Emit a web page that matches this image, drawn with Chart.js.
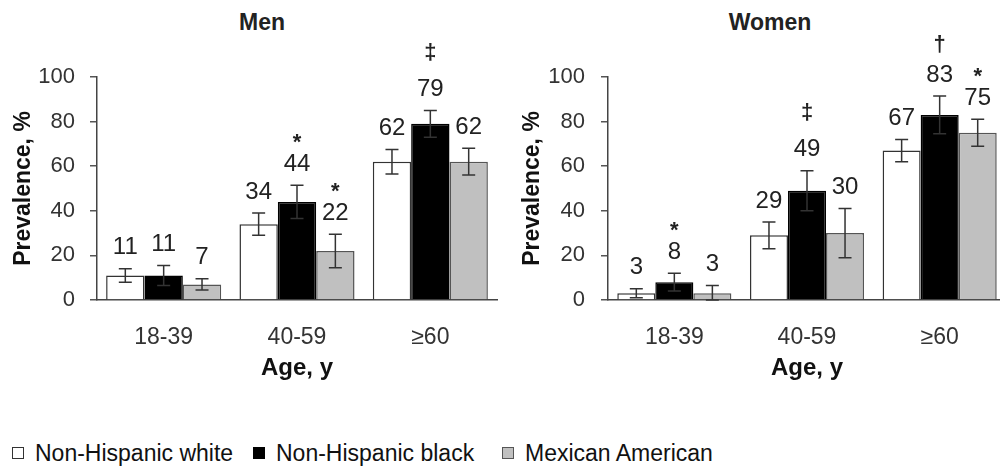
<!DOCTYPE html>
<html>
<head>
<meta charset="utf-8">
<script src="https://cdn.jsdelivr.net/npm/chart.js@4"></script>
<style>
  html, body { margin: 0; padding: 0; background: #fff; }
  body { width: 1000px; height: 466px; overflow: hidden; position: relative; font-family: "Liberation Sans", Arial, sans-serif; }
  canvas { position: absolute; top: 0; }
  .ptitle { position: absolute; top: 9px; font-weight: bold; font-size: 23px; line-height: 26px; color: #222; transform: translateX(-50%); white-space: nowrap; }
  .item { position: absolute; top: 439px; font-size: 23px; line-height: 28px; color: #111; white-space: nowrap; }
  .box { position: absolute; top: 8px; left: -23px; width: 10px; height: 10px; border: 1px solid #333; }
</style>
</head>
<body>
<div class="ptitle" style="left:262px">Men</div>
<div class="ptitle" style="left:770px">Women</div>
<canvas id="men" width="500" height="400" style="left:0"></canvas>
<canvas id="women" width="510" height="400" style="left:500px"></canvas>

<div class="item" style="left:35px"><span class="box" style="background:#fff"></span>Non-Hispanic white</div>
<div class="item" style="left:276px"><span class="box" style="background:#000;border-color:#000"></span>Non-Hispanic black</div>
<div class="item" style="left:525px"><span class="box" style="background:#c0c0c0;border-color:#555"></span>Mexican American</div>

<script>
// categories and series
const categories = ['18-39', '40-59', '\u226560'];
const seriesNames = ['Non-Hispanic white', 'Non-Hispanic black', 'Mexican American'];

// Men - prevalence (%) and error (+/-)
const menWhite = [11, 34, 62];
const menBlack = [11, 44, 79];
const menMexican = [7, 22, 62];
const menWhiteErr = [3, 5, 5.5];
const menBlackErr = [4.5, 7.5, 6];
const menMexicanErr = [2.5, 7.5, 6];
const menWhiteSym = ['', '', ''];
const menBlackSym = ['', '*', '\u2021'];
const menMexicanSym = ['', '*', ''];

// Women
const womenWhite = [3, 29, 67];
const womenBlack = [8, 49, 83];
const womenMexican = [3, 30, 75];
const womenWhiteErr = [2, 6, 5];
const womenBlackErr = [4, 9, 8.5];
const womenMexicanErr = [3.5, 11, 6];
const womenWhiteSym = ['', '', ''];
const womenBlackSym = ['*', '\u2021', '\u2020'];
const womenMexicanSym = ['', '', '*'];

const yTicks = [0, 20, 40, 60, 80, 100];

const FONT = '"Liberation Sans", Arial, sans-serif';
const symbolGap = { '*': 21, '\u2020': 30, '\u2021': 37 };

// draws error bars, value labels and significance marks
const errorBarPlugin = {
    id: 'errorBars',
    afterDatasetsDraw(chart) {
        const ctx = chart.ctx;
        const yScale = chart.scales.y;
        chart.data.datasets.forEach((ds, i) => {
            const meta = chart.getDatasetMeta(i);
            meta.data.forEach((bar, j) => {
                const v = ds.data[j];
                const e = ds.errors[j];
                const top = yScale.getPixelForValue(v + e);
                const bot = yScale.getPixelForValue(Math.max(0, v - e));
                ctx.save();
                ctx.strokeStyle = '#333';
                ctx.lineWidth = 1.5;
                ctx.beginPath();
                ctx.moveTo(bar.x, top); ctx.lineTo(bar.x, bot);
                ctx.moveTo(bar.x - 6.5, top); ctx.lineTo(bar.x + 6.5, top);
                ctx.moveTo(bar.x - 6.5, bot); ctx.lineTo(bar.x + 6.5, bot);
                ctx.stroke();

                ctx.fillStyle = '#222';
                ctx.textAlign = 'center';
                ctx.textBaseline = 'middle';
                ctx.font = '24px ' + FONT;
                const ly = top - 21;
                ctx.fillText(String(v), bar.x, ly);
                const s = ds.symbols[j];
                if (s) {
                    ctx.font = 'bold 22px ' + FONT;
                    ctx.fillText(s, bar.x, ly - symbolGap[s]);
                }
                ctx.restore();
            });
        });
    }
};

function makeChart(id, values, errors, symbols, opt) {
    const fills = ['#ffffff', '#000000', '#c0c0c0'];
    const borders = ['#333333', '#000000', '#555555'];
    const datasets = values.map((vals, i) => ({
        label: seriesNames[i],
        data: vals,
        errors: errors[i],
        symbols: symbols[i],
        backgroundColor: fills[i],
        borderColor: borders[i],
        borderWidth: 1.5,
        barPercentage: 1,
        categoryPercentage: opt.catPct
    }));

    return new Chart(document.getElementById(id).getContext('2d'), {
        type: 'bar',
        data: { labels: categories, datasets: datasets },
        options: {
            responsive: false,
            animation: false,
            layout: { padding: { top: 77, right: opt.padRight, bottom: 0, left: 0 } },
            plugins: {
                legend: { display: false },
                tooltip: { enabled: false }
            },
            scales: {
                x: {
                    afterFit: s => { s.height = 100; },
                    grid: { display: false, drawTicks: false },
                    border: { color: '#444', width: 1.5 },
                    ticks: { padding: 24, color: '#333', font: { size: 23, family: FONT } },
                    title: {
                        display: true, text: 'Age, y', color: '#111',
                        font: { size: 24, weight: 'bold', family: FONT },
                        padding: { top: 0, bottom: 17 }
                    }
                },
                y: {
                    min: 0,
                    max: 100,
                    afterFit: s => { s.width = opt.yWidth; },
                    afterBuildTicks: s => { s.ticks = yTicks.map(v => ({ value: v })); },
                    grid: { drawOnChartArea: false, tickLength: 7, color: '#555', lineWidth: 1.5 },
                    border: { color: '#444', width: 1.5 },
                    ticks: { padding: opt.tickPad, color: '#333', font: { size: 22, family: FONT } },
                    title: {
                        display: true, text: 'Prevalence, %', color: '#111',
                        font: { size: 23, weight: 'bold', family: FONT },
                        padding: { top: opt.titlePad, bottom: 0 }
                    }
                }
            }
        },
        plugins: [errorBarPlugin]
    });
}

document.addEventListener('DOMContentLoaded', function () {
    makeChart('men',
        [menWhite, menBlack, menMexican],
        [menWhiteErr, menBlackErr, menMexicanErr],
        [menWhiteSym, menBlackSym, menMexicanSym],
        { yWidth: 97, tickPad: 15, titlePad: 10, padRight: 3, catPct: 0.863 });

    makeChart('women',
        [womenWhite, womenBlack, womenMexican],
        [womenWhiteErr, womenBlackErr, womenMexicanErr],
        [womenWhiteSym, womenBlackSym, womenMexicanSym],
        { yWidth: 108, tickPad: 16, titlePad: 19, padRight: 4, catPct: 0.86 });
});
</script>
</body>
</html>
